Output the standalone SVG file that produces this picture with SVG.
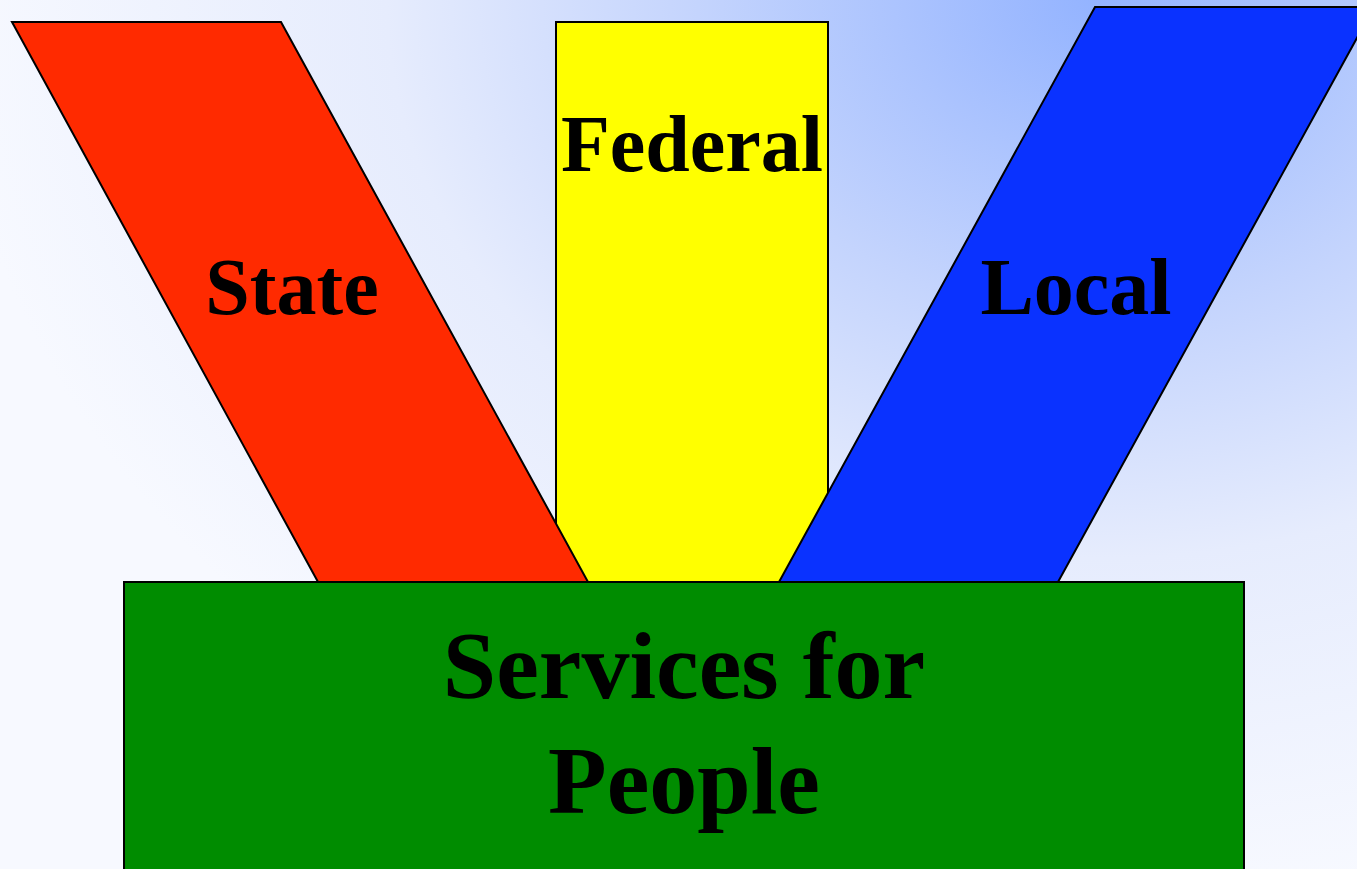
<svg xmlns="http://www.w3.org/2000/svg" width="1357" height="869" viewBox="0 0 1357 869">
  <defs>
    <radialGradient id="bg" gradientUnits="userSpaceOnUse" cx="0" cy="0" r="1" gradientTransform="translate(1100 0) scale(1150 900)">
      <stop offset="0" stop-color="#93b3ff"/>
      <stop offset="0.35" stop-color="#c4d4fd"/>
      <stop offset="0.62" stop-color="#e6ecfd"/>
      <stop offset="1" stop-color="#f7f9ff"/>
    </radialGradient>
  </defs>
  <style>
    .shape { stroke: #000000; stroke-width: 2; }
    .label { font-family: "Liberation Serif", "Times New Roman", serif; font-weight: bold; fill: #000000; text-anchor: middle; }
    .small { font-size: 80px; }
    .big { font-size: 96px; }
  </style>
  <rect x="0" y="0" width="1357" height="869" fill="url(#bg)"/>
  <g id="federal">
    <rect class="shape" x="556" y="22" width="272" height="560" fill="#ffff00"/>
    <text class="label small" x="692" y="171">Federal</text>
  </g>
  <g id="state">
    <polygon class="shape" points="12,22 281,22 588,582 318,582" fill="#ff2a00"/>
    <text class="label small" x="292" y="314">State</text>
  </g>
  <g id="local">
    <polygon class="shape" points="1095,7 1374,7 1058,582 779,582" fill="#0a32ff"/>
    <text class="label small" x="1076" y="314">Local</text>
  </g>
  <g id="services">
    <rect class="shape" x="124" y="582" width="1120" height="300" fill="#008c00"/>
    <text class="label big" x="684" y="698">Services for</text>
    <text class="label big" x="684" y="813">People</text>
  </g>
  <g id="connectors"/>
</svg>
